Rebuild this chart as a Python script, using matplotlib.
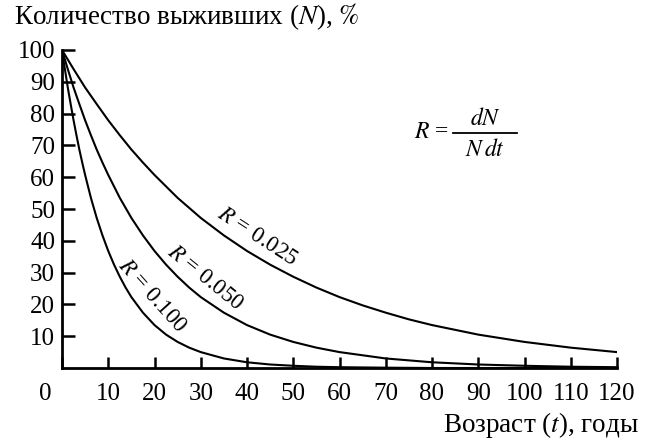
import matplotlib
matplotlib.use('Agg')
import matplotlib.pyplot as plt
import matplotlib.transforms as mtransforms
from matplotlib.lines import Line2D

plt.rcParams['font.family'] = ['Liberation Serif', 'DejaVu Serif']
plt.rcParams['mathtext.fontset'] = 'stix'

# values (survivors, %)
t_025 = [0, 2.5, 5, 7.5, 10, 12.5, 15, 17.5, 20, 25, 30, 35, 40, 45, 50, 55, 60,
         65, 70, 75, 80, 90, 100, 110, 120]
n_025 = [100, 94, 88.2, 83, 77.9, 73.2, 68.7, 64.6, 60.7, 53.5, 47.2, 41.7, 36.8,
         32.5, 28.7, 25.3, 22.3, 19.7, 17.4, 15.3, 13.5, 10.5, 8.2, 6.4, 5]
t_050 = [0, 1.25, 2.5, 3.75, 5, 6.25, 7.5, 8.75, 10, 12.5, 15, 17.5, 20, 22.5, 25,
         27.5, 30, 35, 40, 45, 50, 55, 60, 70, 80, 90, 100, 110, 120]
n_050 = [100, 94, 88.2, 83, 77.9, 73.2, 68.7, 64.6, 60.7, 53.5, 47.2, 41.7, 36.8,
         32.5, 28.7, 25.3, 22.3, 17.4, 13.5, 10.5, 8.2, 6.4, 5, 3, 1.8, 1.1, 0.7, 0.4, 0.25]
t_100 = [0, 0.625, 1.25, 1.875, 2.5, 3.125, 3.75, 4.375, 5, 6.25, 7.5, 8.75, 10,
         11.25, 12.5, 13.75, 15, 17.5, 20, 22.5, 25, 27.5, 30, 35, 40, 45, 50, 55,
         60, 70, 80, 120]
n_100 = [100, 94, 88.2, 83, 77.9, 73.2, 68.7, 64.6, 60.7, 53.5, 47.2, 41.7, 36.8,
         32.5, 28.7, 25.3, 22.3, 17.4, 13.5, 10.5, 8.2, 6.4, 5, 3, 1.8, 1.1, 0.7, 0.4,
         0.25, 0.1, 0, 0]
xticks = [0, 10, 20, 30, 40, 50, 60, 70, 80, 90, 100, 110, 120]
yticks = [10, 20, 30, 40, 50, 60, 70, 80, 90, 100]

fig = plt.figure(figsize=(6.52, 4.43), dpi=100)
ax = fig.add_axes([62/652, 1-368/443, 555/652, 318/443])

for t, n in [(t_025, n_025), (t_050, n_050), (t_100, n_100)]:
    ax.plot(t, n, color='black', lw=1.5, solid_joinstyle='round')

ax.set_xlim(0, 120)
ax.set_ylim(0, 100)
ax.spines['top'].set_visible(False)
ax.spines['right'].set_visible(False)
ax.spines['left'].set_linewidth(2)
ax.spines['bottom'].set_linewidth(2)
ax.set_xticks(xticks)
ax.set_xticklabels([str(v) for v in xticks])
ax.set_yticks(yticks)
ax.set_yticklabels([str(v) for v in yticks])
ax.tick_params(axis='x', direction='in', length=8, width=1.8, pad=11, labelsize=18)
ax.tick_params(axis='y', direction='in', length=9, width=1.8, pad=5, labelsize=18)

# the origin label sits left of the axis
lbl0 = ax.get_xticklabels()[0]
lbl0.set_transform(lbl0.get_transform() +
                   mtransforms.ScaledTranslation(-17/100, 0, fig.dpi_scale_trans))

fig.text(14/652, 1-17/443, r'Количество выживших ($\mathit{N}$), $\mathit{\%}$',
         fontsize=19.5, ha='left', va='center')
fig.text(639/652, 1-425/443, r'Возраст ($\mathit{t}$), годы',
         fontsize=19.5, ha='right', va='center')

ax.text(42.2, 41.2, r'$R$ = 0.025', fontsize=16.5, rotation=-33,
        ha='center', va='center', rotation_mode='anchor')
ax.text(30.9, 28.3, r'$R$ = 0.050', fontsize=16.5, rotation=-39,
        ha='center', va='center', rotation_mode='anchor')
ax.text(19.5, 22.6, r'$R$ = 0.100', fontsize=16.5, rotation=-48,
        ha='center', va='center', rotation_mode='anchor')

# formula R = dN / (N dt)
fig.text(449/652, 1-133/443, r'$R$ =', fontsize=17, ha='right', va='center')
fig.text(485/652, 1-119/443, r'$dN$', fontsize=17, ha='center', va='center')
fig.text(485/652, 1-150/443, r'$N\,dt$', fontsize=17, ha='center', va='center')
fig.add_artist(Line2D([453/652, 517/652], [1-133/443, 1-133/443],
                      transform=fig.transFigure, color='black', lw=1.3))

fig.savefig('out.png', dpi=100)
